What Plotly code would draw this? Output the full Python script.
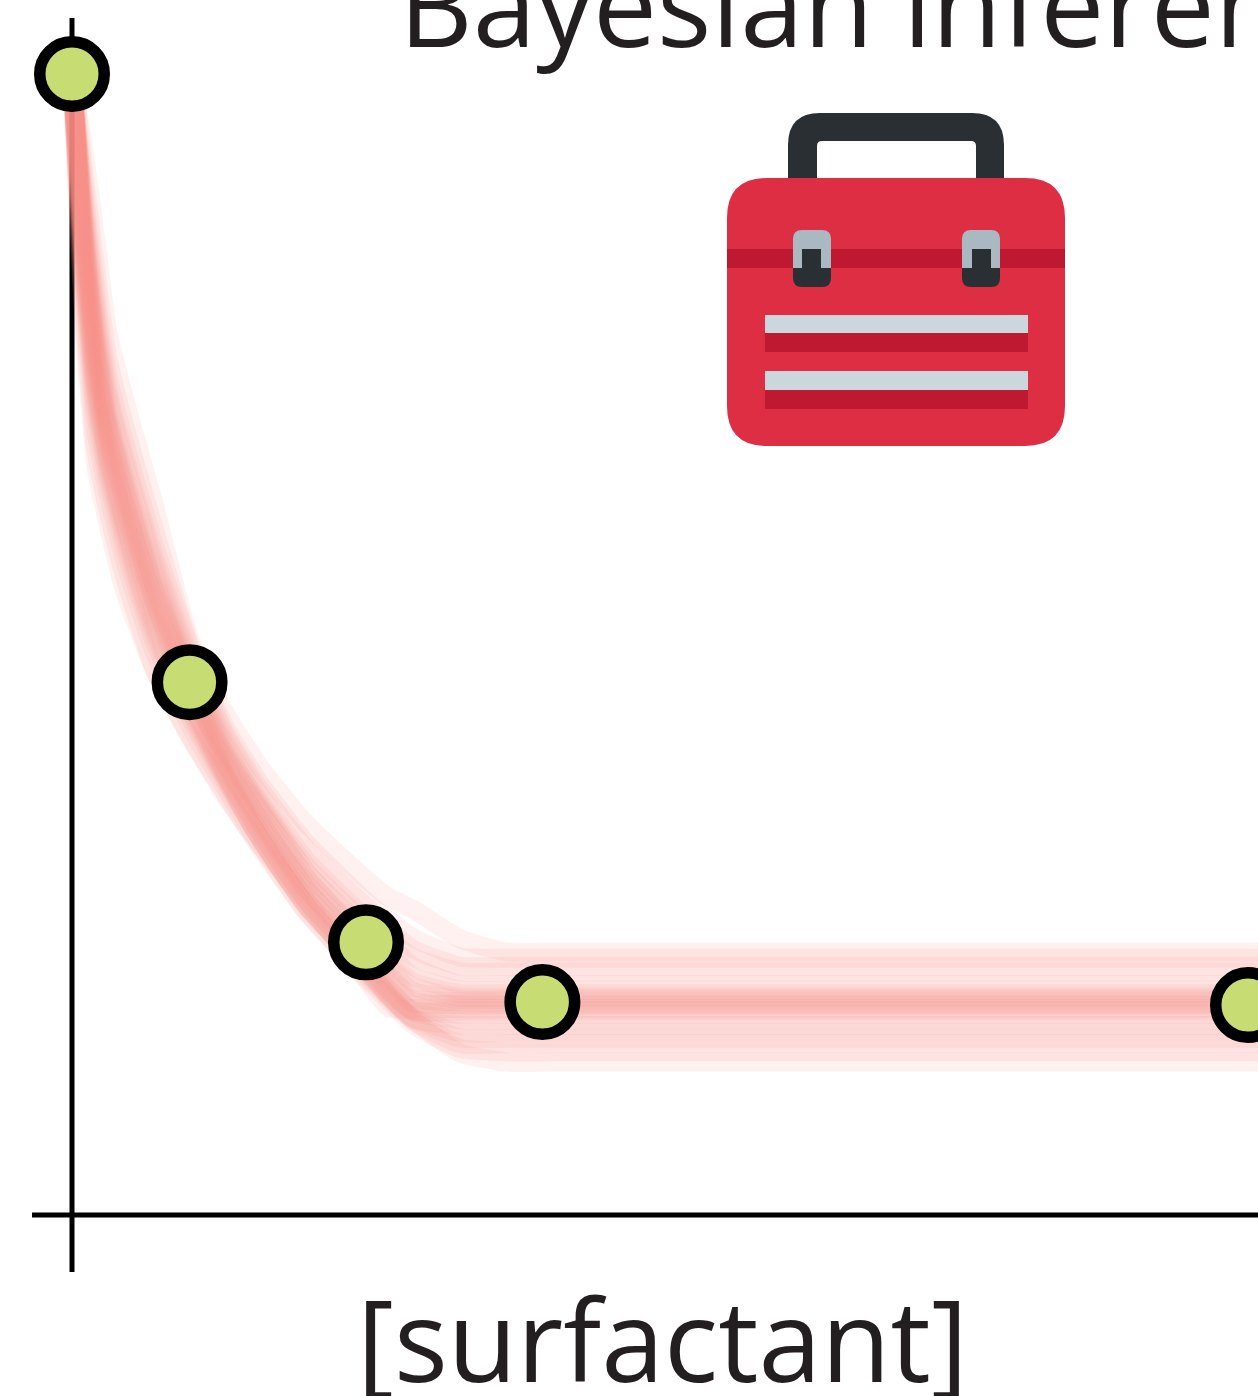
import plotly.graph_objects as go

# --- data ---
surfactant = [0, 10, 25, 40, 100]
signal = [100, 46.7, 23.9, 18.66, 18.4]

grid = [0, 1, 2, 3, 4.5, 7, 10, 13, 16, 20, 25, 27, 29, 33, 37, 41, 102]
curve_01 = [100, 93.4, 85.7, 77.6, 71.4, 62.2, 50.5, 44, 39.2, 34.2, 29.4, 27.8, 26.8, 24.2, 23.05, 23.05, 23.05]
curve_02 = [101, 91.3, 83, 75.3, 69.1, 60.1, 50, 42.8, 37.8, 32.5, 27.5, 25.8, 24.3, 22.6, 22.5, 22.5, 22.5]
curve_03 = [100, 90, 81.2, 73.8, 67.6, 58.7, 49.7, 42.3, 37.3, 32, 27, 25, 23.3, 21.8, 21.8, 21.8, 21.8]
curve_04 = [99, 89, 79.9, 72.6, 66.4, 57.7, 49, 42, 36.8, 31, 26, 24.2, 22.6, 21.3, 21.3, 21.3, 21.3]
curve_05 = [100, 88.3, 79, 71.9, 65.7, 57, 48.5, 41.5, 36.3, 30.5, 25.5, 23.6, 21.8, 20.2, 20.2, 20.2, 20.2]
curve_06 = [100.5, 87.6, 78.1, 71.1, 64.9, 56.3, 48, 41, 35.8, 30, 25, 22.8, 20.9, 19.7, 19.7, 19.7, 19.7]
curve_07 = [100, 87.1, 77.4, 70.5, 64.3, 55.7, 47.6, 40.8, 36, 30, 24.5, 22.2, 20.4, 19.4, 19.4, 19.4, 19.4]
curve_08 = [99.5, 86.6, 76.7, 70, 63.8, 55.2, 47.2, 40.5, 35.5, 29.5, 24, 21.8, 20, 19.1, 19.1, 19.1, 19.1]
curve_09 = [100, 86.2, 76.3, 69.6, 63.4, 54.9, 47, 40.3, 35.5, 29.5, 23.8, 21.5, 19.6, 18.9, 18.9, 18.9, 18.9]
curve_10 = [100, 85.9, 75.8, 69.2, 63, 54.5, 46.7, 40, 35, 29, 23.5, 21, 19, 18.7, 18.7, 18.7, 18.7]
curve_11 = [100, 85.6, 75.4, 68.8, 62.6, 54.2, 46.5, 39.8, 34.5, 28.5, 22.8, 20.4, 18.5, 18.5, 18.5, 18.5, 18.5]
curve_12 = [99, 85.2, 74.9, 68.4, 62.2, 53.8, 46.2, 39.5, 34.5, 28.5, 23, 20.7, 18.7, 18.4, 18.4, 18.4, 18.4]
curve_13 = [99.5, 78.4, 65.9, 60.8, 54.6, 47.8, 42, 36.8, 32.4, 27.4, 20.6, 18.1, 18.1, 18.1, 18.1, 18.1, 18.1]
curve_14 = [100, 84.9, 74.5, 68.1, 61.9, 53.5, 46, 39.3, 34, 28, 22.3, 19.8, 17.9, 17.9, 17.9, 17.9, 17.9]
curve_15 = [100, 84.4, 73.8, 67.5, 61.3, 52.9, 45.6, 38.8, 33.5, 27.5, 22, 19.6, 17.9, 17.6, 17.6, 17.6, 17.6]
curve_16 = [100, 83.9, 73.1, 66.9, 60.7, 52.4, 45.2, 38.8, 33.5, 27.5, 21.8, 19.5, 17.8, 17.1, 17.1, 17.1, 17.1]
curve_17 = [100, 83.5, 72.7, 66.5, 60.3, 52, 45, 38.5, 33, 27, 21.5, 19.2, 17.2, 16.6, 16.6, 16.6, 16.6]
curve_18 = [99.5, 83, 72, 66, 59.8, 51.5, 44.6, 38.5, 33, 27, 21.5, 19.2, 17.3, 16, 16, 16, 16]
curve_19 = [100, 82.5, 71.3, 65.4, 59.2, 51, 44.2, 38.3, 33, 27, 21.5, 19.2, 17.2, 15.5, 15.5, 15.5, 15.5]
curve_20 = [100, 81.8, 70.4, 64.6, 58.4, 50.3, 43.7, 38, 33, 27, 21.3, 19, 17, 15, 15, 15, 15]
curve_21 = [100, 80.8, 69, 63.5, 57.3, 49.3, 43, 37.5, 32.5, 26.5, 20.8, 18.7, 16.7, 14.6, 14.3, 14.3, 14.3]
curve_22 = [100, 79.4, 67.3, 62, 55.8, 47.9, 42, 37, 32.2, 26.5, 21, 19, 17.1, 14.2, 13.4, 13.4, 13.4]
curves = [curve_01, curve_02, curve_03, curve_04, curve_05, curve_06, curve_07, curve_08,
          curve_09, curve_10, curve_11, curve_12, curve_13, curve_14, curve_15, curve_16,
          curve_17, curve_18, curve_19, curve_20, curve_21, curve_22]

title_text = "Bayesian inference"
xlabel_text = "[surfactant]"

# --- page geometry ---
W, H = 1258, 1396
PX_X, PX_Y = 11.76, 11.41   # pixels per data unit
X0, Y0 = 72, 1215           # origin in page pixels

fig = go.Figure()

# axes (under the curves)
fig.add_trace(go.Scatter(x=[-3.4, 102], y=[0, 0], mode="lines",
                         line=dict(color="#000000", width=5), hoverinfo="skip"))
fig.add_trace(go.Scatter(x=[0, 0], y=[104.9, -5.0], mode="lines",
                         line=dict(color="#000000", width=5), hoverinfo="skip"))

for c in curves:
    fig.add_trace(go.Scatter(x=grid, y=c, mode="lines", hoverinfo="skip",
                             line=dict(color="rgba(245,142,130,0.12)", width=19,
                                       shape="spline", smoothing=0.5)))

fig.add_trace(go.Scatter(x=surfactant, y=signal, mode="markers",
                         marker=dict(size=64.5, color="#C8DC74",
                                     line=dict(color="#000000", width=11.5))))


# --- toolbox icon, decoration in page pixels ---
def fx(px):
    return px / W


def fy(py):
    return 1 - py / H


def rrect(x0, y0, x1, y1, r):
    """Rounded rectangle path in paper coordinates, radius r in pixels."""
    tl = r[0]; tr = r[1]; br = r[2]; bl = r[3]
    k = lambda a, b: f"{fx(a):.5f},{fy(b):.5f}"
    return (f"M{k(x0 + tl, y0)} L{k(x1 - tr, y0)} Q{k(x1, y0)} {k(x1, y0 + tr)} "
            f"L{k(x1, y1 - br)} Q{k(x1, y1)} {k(x1 - br, y1)} L{k(x0 + bl, y1)} "
            f"Q{k(x0, y1)} {k(x0, y1 - bl)} L{k(x0, y0 + tl)} Q{k(x0, y0)} {k(x0 + tl, y0)} Z")


def add_path(path, color):
    fig.add_shape(type="path", xref="paper", yref="paper", path=path,
                  fillcolor=color, line=dict(width=0), layer="above")


RED, DARKRED, DARK, GREY, LIGHT = "#DD2E44", "#BE1931", "#292F33", "#AAB8C2", "#CCD6DD"

# handle: outer dark, inner white
add_path(rrect(788, 113, 1004, 182, (32, 32, 0, 0)), DARK)
add_path(rrect(817, 141, 976, 182, (5, 5, 0, 0)), "#FFFFFF")
# body
add_path(rrect(727, 178, 1065, 446, (40, 40, 40, 40)), RED)
add_path(rrect(727, 249, 1065, 268, (0, 0, 0, 0)), DARKRED)
# latches
for lx0, lx1, nx0, nx1 in [(793, 831, 802, 821), (962, 1000, 972, 991)]:
    add_path(rrect(lx0, 230, lx1, 268, (9, 9, 0, 0)), GREY)
    add_path(rrect(lx0, 268, lx1, 287, (0, 0, 9, 9)), DARK)
    add_path(rrect(nx0, 249, nx1, 269, (0, 0, 0, 0)), DARK)
# drawers
for y0, y1, y2 in [(315, 333, 352), (371, 390, 409)]:
    add_path(rrect(765, y0, 1028, y1, (0, 0, 0, 0)), LIGHT)
    add_path(rrect(765, y1, 1028, y2, (0, 0, 0, 0)), DARKRED)

FONT = "Open Sans"
fig.add_annotation(xref="paper", yref="paper", x=fx(397), y=fy(82), xanchor="left", yanchor="bottom",
                   text=title_text, showarrow=False, align="left",
                   font=dict(family=FONT, size=114, color="#231F20"))
fig.add_annotation(xref="paper", yref="paper", x=fx(662), y=fy(1417), xanchor="center", yanchor="bottom",
                   text=xlabel_text, showarrow=False,
                   font=dict(family=FONT, size=113, color="#231F20"))

fig.update_layout(
    width=W, height=H, margin=dict(l=0, r=0, t=0, b=0), showlegend=False,
    paper_bgcolor="#FFFFFF", plot_bgcolor="#FFFFFF",
    xaxis=dict(visible=False, range=[-X0 / PX_X, (W - X0) / PX_X]),
    yaxis=dict(visible=False, range=[(Y0 - H) / PX_Y, Y0 / PX_Y]),
)
fig.write_html("out.html", config={"displayModeBar": False},
               post_script="document.body.style.margin='0';")
